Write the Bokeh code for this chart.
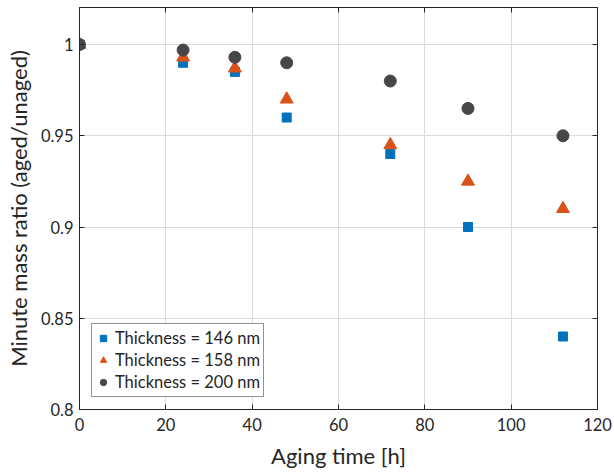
from bokeh.plotting import figure
from bokeh.models import LinearAxis, Range1d, FixedTicker, Legend, LegendItem
from bokeh.embed import file_html
from bokeh.resources import INLINE

hours = [0, 24, 36, 48, 72, 90, 112]
t146 = [1.0, 0.990, 0.985, 0.960, 0.940, 0.900, 0.840]
t158 = [1.0, 0.993, 0.987, 0.970, 0.945, 0.925, 0.910]
t200 = [1.0, 0.997, 0.993, 0.990, 0.980, 0.965, 0.950]
labels = ["Thickness = 146 nm", "Thickness = 158 nm", "Thickness = 200 nm"]
xticks = [0, 20, 40, 60, 80, 100, 120]
yticks = [0.8, 0.85, 0.9, 0.95, 1.0]
ytick_labels = {0.8: "0.8", 0.85: "0.85", 0.9: "0.9", 0.95: "0.95", 1.0: "1"}

FONT = "Lato"

p = figure(width=614, height=473, output_backend="svg", toolbar_location=None,
           x_range=Range1d(0, 120), y_range=Range1d(0.8, 1.0203),
           min_border_left=79, min_border_right=17, min_border_top=7, min_border_bottom=64)
p.outline_line_color = "#262626"
p.outline_line_width = 1

for ax in [p.xaxis[0], p.yaxis[0]]:
    ax.major_tick_in = 5
    ax.major_tick_out = 0
    ax.minor_tick_in = 0
    ax.minor_tick_out = 0
    ax.axis_line_color = "#262626"
    ax.major_tick_line_color = "#262626"
    ax.major_label_text_font = FONT
    ax.major_label_text_font_size = "16.5px"
    ax.major_label_text_color = "#262626"
    ax.axis_label_text_font = FONT
    ax.axis_label_text_font_size = "22px"
    ax.axis_label_text_font_style = "normal"
    ax.axis_label_text_color = "#262626"

p.xaxis[0].ticker = FixedTicker(ticks=xticks)
p.yaxis[0].ticker = FixedTicker(ticks=yticks)
p.yaxis[0].major_label_overrides = ytick_labels
p.xaxis[0].axis_label = "Aging time [h]"
p.yaxis[0].axis_label = "Minute mass ratio (aged/unaged)"
p.xaxis[0].major_label_standoff = 8
p.yaxis[0].major_label_standoff = 6
p.xaxis[0].axis_label_standoff = 8
p.yaxis[0].axis_label_standoff = 6

right = LinearAxis(ticker=FixedTicker(ticks=yticks), major_label_text_font_size="0px",
                   major_tick_in=5, major_tick_out=0, minor_tick_in=0, minor_tick_out=0,
                   major_label_standoff=0,
                   axis_line_color="#262626", major_tick_line_color="#262626")
top = LinearAxis(ticker=FixedTicker(ticks=xticks), major_label_text_font_size="0px",
                 major_tick_in=5, major_tick_out=0, minor_tick_in=0, minor_tick_out=0,
                 major_label_standoff=0,
                 axis_line_color="#262626", major_tick_line_color="#262626")
p.add_layout(right, "right")
p.add_layout(top, "above")

p.xgrid.ticker = FixedTicker(ticks=xticks)
p.ygrid.ticker = FixedTicker(ticks=yticks)
p.grid.grid_line_color = "#dcdcdc"
p.grid.grid_line_width = 1

r1 = p.scatter(hours, t146, marker="square", size=9, fill_color="#0072BD", line_color="#0072BD")
r2 = p.scatter(hours, t158, marker="triangle", size=13, fill_color="#D95319", line_color="#D95319")
r3 = p.scatter(hours, t200, marker="circle", size=12, fill_color="#474747", line_color="#474747")

legend = Legend(items=[LegendItem(label=labels[0], renderers=[r1]),
                       LegendItem(label=labels[1], renderers=[r2]),
                       LegendItem(label=labels[2], renderers=[r3])],
                location="bottom_left")
legend.label_text_font = FONT
legend.label_text_font_size = "16.5px"
legend.label_text_color = "#262626"
legend.border_line_color = "#262626"
legend.border_line_width = 1
legend.margin = 12
legend.padding = 3
legend.spacing = 0
legend.glyph_width = 16
legend.label_standoff = 4
legend.label_height = 22
legend.glyph_height = 22
p.add_layout(legend)

open("out.html", "w").write(file_html(p, INLINE))
